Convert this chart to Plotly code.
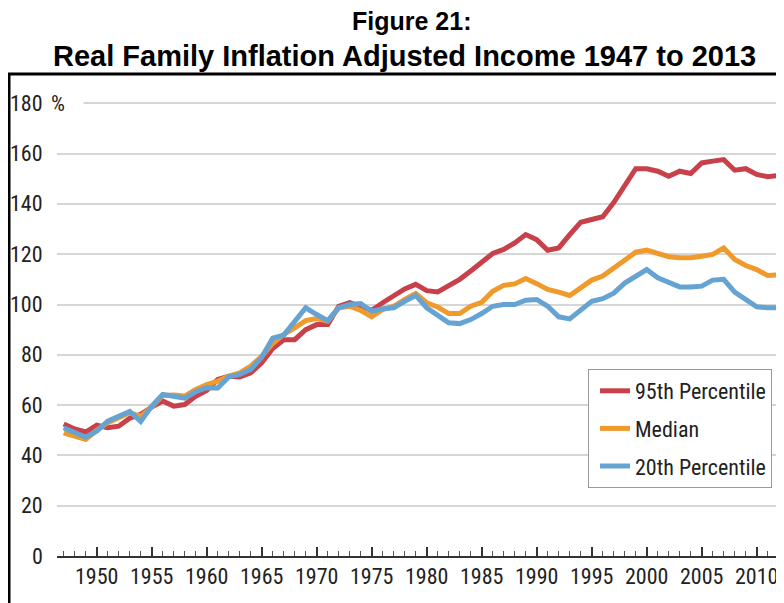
import plotly.graph_objects as go

years = list(range(1947, 2014))

p95 = [52.5, 50.5, 49.3, 52.0, 51.0, 51.6, 54.8, 56.3, 59.2, 61.6,
       59.6, 60.2, 63.5, 65.8, 70.2, 71.5, 71.2, 72.8, 76.8, 82.5,
       86.0, 86.0, 90.0, 92.0, 92.0, 99.3, 100.7, 99.3, 97.7, 100.7,
       103.3, 106.2, 108.0, 105.5, 105.0, 107.3, 110.0, 113.3, 116.6, 120.3,
       121.9, 124.5, 127.8, 125.8, 121.6, 122.5, 127.8, 132.7, 133.8, 134.9,
       140.5, 147.5, 154.0, 154.0, 153.0, 151.0, 153.0, 152.1, 156.3, 157.0,
       157.6, 153.4, 154.0, 151.7, 150.8, 151.3, 153.5]

median = [49.0, 47.5, 46.3, 50.0, 53.0, 55.0, 57.0, 55.5, 59.3, 63.8,
          64.0, 63.6, 66.2, 68.2, 69.5, 71.5, 72.8, 75.5, 79.4, 84.5,
          88.1, 90.7, 93.6, 94.4, 93.4, 98.7, 99.3, 97.7, 95.1, 98.0,
          99.3, 102.0, 104.4, 100.7, 99.0, 96.4, 96.4, 99.3, 100.9, 105.3,
          107.6, 108.2, 110.3, 108.3, 106.0, 104.9, 103.6, 106.6, 109.7, 111.3,
          114.5, 118.2, 120.8, 121.6, 120.3, 119.0, 118.6, 118.6, 119.2, 119.9,
          122.5, 117.9, 115.5, 113.9, 111.5, 111.5, 112.0]

p20 = [51.0, 49.0, 47.2, 49.6, 53.6, 55.6, 57.5, 53.5, 59.6, 64.2,
       63.3, 62.8, 65.3, 66.9, 66.8, 71.2, 72.2, 74.2, 79.0, 86.6,
       87.8, 93.4, 98.7, 96.0, 93.6, 98.7, 100.0, 100.4, 97.3, 98.3,
       98.7, 101.3, 103.6, 98.7, 95.5, 92.7, 92.4, 94.0, 96.4, 99.3,
       100.0, 100.0, 101.7, 102.0, 99.3, 95.1, 94.3, 97.7, 101.3, 102.3,
       104.5, 108.5, 111.3, 113.9, 110.6, 108.6, 107.0, 107.0, 107.3, 109.7,
       110.0, 104.9, 101.7, 99.1, 98.7, 98.7, 100.5]

series_names = ["95th Percentile", "Median", "20th Percentile"]
series_colors = ["#c8404a", "#f09a2c", "#65a3d3"]
y_ticks = [0, 20, 40, 60, 80, 100, 120, 140, 160, 180]
x_ticks = list(range(1950, 2015, 5))

title_line1 = "Figure 21:"
title_line2 = "Real Family Inflation Adjusted Income 1947 to 2013"

NARROW = "Roboto Condensed, Liberation Sans Narrow, Arial Narrow, sans-serif"

# The page body has an 8px margin, so the figure is offset by 8px.
OFF = 8
W, H = 784 - OFF, 603 - OFF
ML, MR, MT, MB = 57 - OFF, 0, 74 - OFF, 47
plot_w = W - ML - MR
plot_h = H - MT - MB

fig = go.Figure()
for name, vals, col in zip(series_names, [p95, median, p20], series_colors):
    fig.add_trace(go.Scatter(x=years, y=vals, mode="lines", name=name,
                             legendgroup=name,
                             line=dict(color=col, width=5)))

def px_to_paper_x(px):
    return (px - OFF - ML) / plot_w

def px_to_paper_y(py):
    return (H - MB - (py - OFF)) / plot_h

annotations = []
for v in y_ticks:
    annotations.append(dict(x=px_to_paper_x(45), xref="paper", y=v, yref="y",
                            text=str(v), showarrow=False, xanchor="right",
                            yanchor="middle",
                            font=dict(family=NARROW, size=22, color="#222")))
annotations.append(dict(x=px_to_paper_x(49), xref="paper", y=y_ticks[-1], yref="y",
                        text="%", showarrow=False, xanchor="left", yanchor="middle",
                        width=31, align="left", bgcolor="white",
                        font=dict(family=NARROW, size=22, color="#222")))

# title lines
annotations.append(dict(x=px_to_paper_x(411), xref="paper", y=px_to_paper_y(21), yref="paper",
                        text="<b>" + title_line1 + "</b>", showarrow=False,
                        xanchor="center", yanchor="middle",
                        font=dict(family="Liberation Sans, Arial, sans-serif", size=25, color="black")))
annotations.append(dict(x=px_to_paper_x(404), xref="paper", y=px_to_paper_y(56), yref="paper",
                        text="<b>" + title_line2 + "</b>", showarrow=False,
                        xanchor="center", yanchor="middle",
                        font=dict(family="Liberation Sans, Arial, sans-serif", size=29, color="black")))

shapes = [dict(type="rect", xref="paper", yref="paper",
               x0=px_to_paper_x(9), x1=1.2, y0=-0.3, y1=px_to_paper_y(74),
               line=dict(color="black", width=3), fillcolor="rgba(0,0,0,0)",
               layer="above")]

fig.update_layout(
    width=W, height=H,
    margin=dict(l=ML, r=MR, t=MT, b=MB, pad=0, autoexpand=False),
    paper_bgcolor="white", plot_bgcolor="white",
    showlegend=True,
    legend=dict(x=px_to_paper_x(588), y=px_to_paper_y(369),
                xanchor="left", yanchor="top",
                bgcolor="white", bordercolor="#9a9a9a", borderwidth=1,
                font=dict(family=NARROW, size=22, color="#222"),
                itemwidth=30, tracegroupgap=6, indentation=6),
    annotations=annotations,
    shapes=shapes,
    xaxis=dict(range=[1946.39, 2012.48], showgrid=False, zeroline=False, automargin=False,
               showline=True, linecolor="#333", linewidth=2,
               tickmode="array", tickvals=x_ticks, ticktext=[str(t) for t in x_ticks],
               ticks="inside", ticklen=9, tickwidth=2, tickcolor="#333",
               minor=dict(ticks="inside", ticklen=5, tickwidth=1, tickcolor="#555", dtick=1, tick0=1946),
               tickfont=dict(family=NARROW, size=22, color="#222")),
    yaxis=dict(range=[0, plot_h / 2.515], showgrid=True, gridcolor="#d6d6d6", gridwidth=2,
               automargin=False,
               tickvals=y_ticks[1:], showticklabels=False, zeroline=False, showline=False),
)

fig.write_html("out.html")
